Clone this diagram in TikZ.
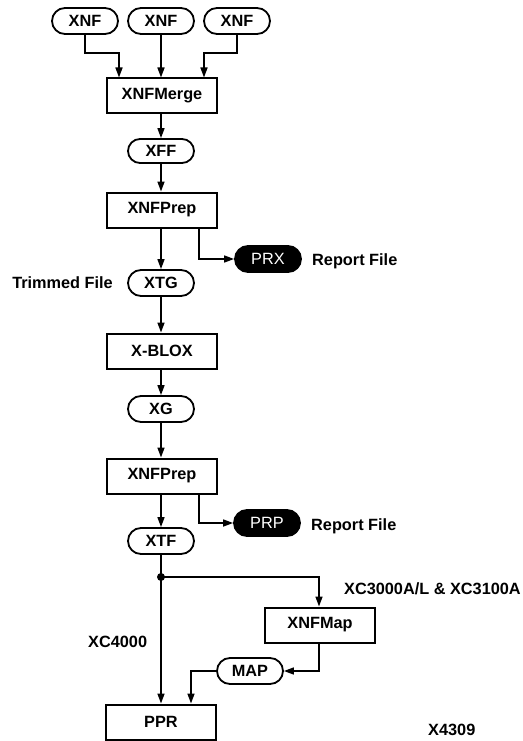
\documentclass[tikz,border=0pt]{standalone}
\usepackage{fontspec}
\setmainfont{Liberation Sans}
\usetikzlibrary{arrows.meta,shapes.misc}
\begin{document}
\begin{tikzpicture}[x=1pt,y=-1pt,
  every node/.style={font=\fontsize{16.3}{18}\selectfont\bfseries, inner sep=0pt},
  oval/.style={draw, line width=1.8pt, rounded rectangle, minimum width=66pt, minimum height=26pt},
  blackoval/.style={oval, fill=black, text=white, font=\fontsize{16.3}{18}\selectfont},
  procbox/.style={draw, line width=2pt, rectangle, minimum width=110pt, minimum height=35pt},
  lbl/.style={},
  conn/.style={line width=1.6pt},
  arr/.style={conn, -{Triangle[length=10pt,width=7pt]}}
]
\useasboundingbox (0,0) rectangle (522,741);
% nodes
\node[oval] (xnf1) at (85,21) {XNF};
\node[oval] (xnf2) at (161,21) {XNF};
\node[oval] (xnf3) at (237,21) {XNF};
\node[procbox] (merge) at (162,96) {XNFMerge};
\node[oval, minimum height=24pt] (xff) at (161,151) {XFF};
\node[procbox] (prep1) at (162,210) {XNFPrep};
\node[blackoval] (prx) at (268,259) {PRX};
\node[lbl, anchor=west] (rep1) at (312,261) {Report File};
\node[oval] (xtg) at (161,283) {XTG};
\node[lbl, anchor=east] (trim) at (113,283) {Trimmed File};
\node[procbox] (xblox) at (162,351) {X-BLOX};
\node[oval] (xg) at (161,409) {XG};
\node[procbox] (prep2) at (162,476) {XNFPrep};
\node[blackoval] (prp) at (267,523) {PRP};
\node[lbl, anchor=west] (rep2) at (311,526) {Report File};
\node[oval] (xtf) at (161,541) {XTF};
\coordinate (dot) at (161,577);
\node[procbox] (xnfmap) at (320,625) {XNFMap};
\node[lbl, anchor=east] (xc3000) at (521,589) {XC3000A/L \& XC3100A};
\node[lbl, anchor=west] (xc4000) at (88,642) {XC4000};
\node[oval] (map) at (250,671) {MAP};
\node[procbox] (ppr) at (161,722) {PPR};
\node[lbl, anchor=west] (xid) at (428,730) {X4309};
% connectors
\draw[arr] (xnf1.south) -- ++(0,18) -| ([xshift=-43pt]merge.north);
\draw[arr] (xnf2.south) -- (xnf2.south |- merge.north);
\draw[arr] (xnf3.south) -- ++(0,18) -| ([xshift=42pt]merge.north);
\draw[arr] (merge.south -| xff.north) -- (xff.north);
\draw[arr] (xff.south) -- (xff.south |- prep1.north);
\draw[arr] ([xshift=37pt]prep1.south) |- (prx.west);
\draw[arr] (prep1.south -| xtg.north) -- (xtg.north);
\draw[arr] (xtg.south) -- (xtg.south |- xblox.north);
\draw[arr] (xblox.south -| xg.north) -- (xg.north);
\draw[arr] (xg.south) -- (xg.south |- prep2.north);
\draw[arr] ([xshift=37pt]prep2.south) |- (prp.west);
\draw[arr] (prep2.south -| xtf.north) -- (xtf.north);
\draw[conn] (xtf.south) -- (dot);
\fill (dot) circle (4pt);
\draw[arr] (dot) -| ([xshift=-1pt]xnfmap.north);
\draw[arr] (dot) -- (ppr.north);
\draw[arr] ([xshift=-1pt]xnfmap.south) |- (map.east);
\draw[arr] (map.west) -| ([xshift=30pt]ppr.north);
\end{tikzpicture}
\end{document}
